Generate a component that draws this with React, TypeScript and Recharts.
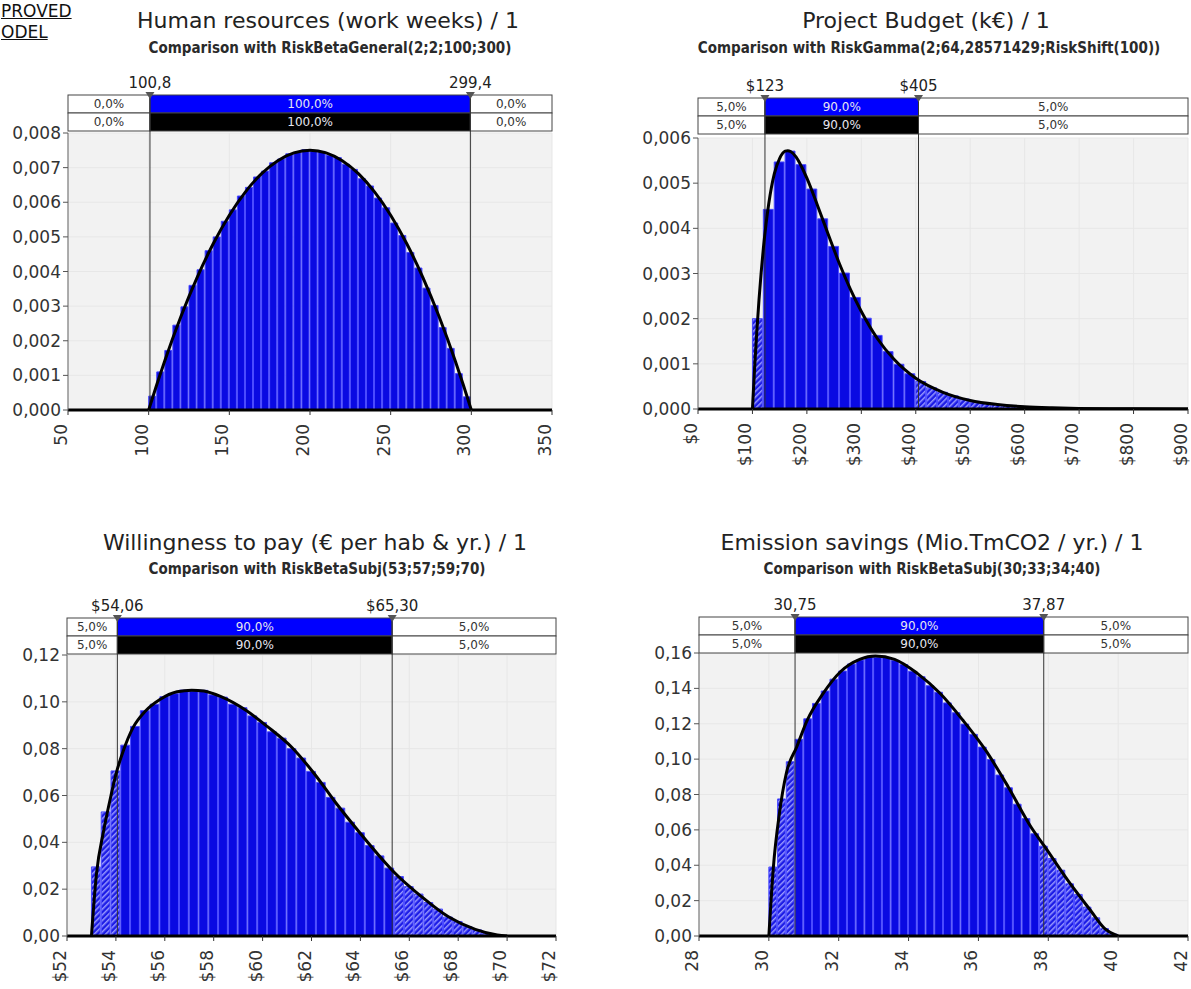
import React from "react";
import {
  ComposedChart,
  Bar,
  Line,
  XAxis,
  YAxis,
  CartesianGrid,
  Cell,
  ReferenceArea,
  ReferenceLine,
  ReferenceDot,
} from "recharts";

// Human resources (work weeks): histogram bins [centre, density] and fitted curve
const hrBins = [
  [102.5, 0.0004], [107.5, 0.0011], [112.5, 0.00172], [117.5, 0.00245], [122.5, 0.00298],
  [127.5, 0.0036], [132.5, 0.00405], [137.5, 0.0046], [142.5, 0.005], [147.5, 0.00545],
  [152.5, 0.00578], [157.5, 0.00618], [162.5, 0.00643], [167.5, 0.00673], [172.5, 0.0069],
  [177.5, 0.00714], [182.5, 0.00725], [187.5, 0.0074], [192.5, 0.00744], [197.5, 0.00752],
  [202.5, 0.00748], [207.5, 0.00747], [212.5, 0.00736], [217.5, 0.00729], [222.5, 0.0071],
  [227.5, 0.00695], [232.5, 0.00668], [237.5, 0.00647], [242.5, 0.00612], [247.5, 0.00584],
  [252.5, 0.0054], [257.5, 0.00504], [262.5, 0.00455], [267.5, 0.0041], [272.5, 0.00352],
  [277.5, 0.00302], [282.5, 0.00238], [287.5, 0.00178], [292.5, 0.00105], [297.5, 0.00038],
];
const hrCurve = [
  [100, 0], [105, 0.00073], [110, 0.001425], [120, 0.0027], [130, 0.003825], [140, 0.0048],
  [150, 0.005625], [160, 0.0063], [170, 0.006825], [180, 0.0072], [190, 0.007425], [200, 0.0075],
  [210, 0.007425], [220, 0.0072], [230, 0.006825], [240, 0.0063], [250, 0.005625], [260, 0.0048],
  [270, 0.003825], [280, 0.0027], [290, 0.001425], [295, 0.00073], [300, 0],
];
const hrXTicks = [50, 100, 150, 200, 250, 300, 350];
const hrYTicks = [0, 0.001, 0.002, 0.003, 0.004, 0.005, 0.006, 0.007, 0.008];
const hrMarks = [100.8, 299.4];
const hrMarkLabels = ["100,8", "299,4"];
const hrPcts = ["0,0%", "100,0%", "0,0%"];

// Project budget (k€)
const budgetBins = [
  [110, 0.002], [130, 0.00442], [150, 0.00547], [170, 0.00571], [190, 0.00541], [210, 0.00487],
  [230, 0.00421], [250, 0.0036], [270, 0.00301], [290, 0.00247], [310, 0.00201], [330, 0.00163],
  [350, 0.00127], [370, 0.00099], [390, 0.00078], [410, 0.00061], [430, 0.00047], [450, 0.00037],
  [470, 0.00029], [490, 0.00022], [510, 0.00017], [530, 0.00013], [550, 0.0001], [570, 0.00008],
  [590, 0.00006], [610, 0.000045], [630, 0.000035], [650, 0.000025], [670, 0.00002], [690, 0.000015],
  [710, 0.00001], [730, 0.000008], [750, 0.000006], [770, 0.000004], [790, 0.000003],
];
const budgetCurve = [
  [100, 0], [104, 0.00091], [108, 0.00171], [112, 0.00241], [116, 0.00302], [120, 0.00355],
  [125, 0.0041], [130, 0.00455], [140, 0.0052], [150, 0.00555], [160, 0.00571], [165, 0.00572],
  [170, 0.0057], [180, 0.00558], [190, 0.00537], [200, 0.00511], [220, 0.00449], [240, 0.00384],
  [260, 0.00321], [280, 0.00265], [300, 0.00216], [330, 0.00155], [360, 0.0011], [400, 0.00068],
  [450, 0.00037], [500, 0.00019], [550, 0.0001], [600, 0.00005], [650, 0.000026], [700, 0.000013],
  [800, 0.000003], [900, 0],
];
const budgetXTicks = [0, 100, 200, 300, 400, 500, 600, 700, 800, 900];
const budgetYTicks = [0, 0.001, 0.002, 0.003, 0.004, 0.005, 0.006];
const budgetMarks = [123, 405];
const budgetMarkLabels = ["$123", "$405"];
const budgetPcts = ["5,0%", "90,0%", "5,0%"];

// Willingness to pay (€ per hab & yr.)
const wtpBins = [
  [53.2, 0.0295], [53.6, 0.053], [54.0, 0.0705], [54.4, 0.0815], [54.8, 0.0895], [55.2, 0.0962],
  [55.6, 0.099], [56.0, 0.1022], [56.4, 0.1035], [56.8, 0.105], [57.2, 0.1046], [57.6, 0.1049],
  [58.0, 0.103], [58.4, 0.102], [58.8, 0.099], [59.2, 0.0975], [59.6, 0.094], [60.0, 0.0912],
  [60.4, 0.0872], [60.8, 0.0845], [61.2, 0.08], [61.6, 0.076], [62.0, 0.0703], [62.4, 0.0656],
  [62.8, 0.0592], [63.2, 0.0546], [63.6, 0.0486], [64.0, 0.0441], [64.4, 0.0386], [64.8, 0.0342],
  [65.2, 0.029], [65.6, 0.0254], [66.0, 0.0211], [66.4, 0.0179], [66.8, 0.0143], [67.2, 0.0115],
  [67.6, 0.0081], [68.0, 0.0062], [68.4, 0.004], [68.8, 0.0026], [69.2, 0.0012], [69.6, 0.0004],
];
const wtpCurve = [
  [53.0, 0], [53.2, 0.026], [53.5, 0.045], [53.8, 0.06], [54.0, 0.069], [54.3, 0.079],
  [54.7, 0.089], [55.2, 0.096], [55.8, 0.101], [56.5, 0.1043], [57.1, 0.105], [57.6, 0.1046],
  [58.3, 0.1022], [59.3, 0.0965], [60.2, 0.0894], [61.2, 0.0805], [62.1, 0.0695], [63.0, 0.0568],
  [64.0, 0.0438], [64.9, 0.0327], [65.4, 0.027], [66.5, 0.0168], [67.6, 0.0082], [68.7, 0.0028],
  [69.6, 0.0004], [70.0, 0],
];
const wtpXTicks = [52, 54, 56, 58, 60, 62, 64, 66, 68, 70, 72];
const wtpYTicks = [0, 0.02, 0.04, 0.06, 0.08, 0.1, 0.12];
const wtpMarks = [54.06, 65.3];
const wtpMarkLabels = ["$54,06", "$65,30"];
const wtpPcts = ["5,0%", "90,0%", "5,0%"];

// Emission savings (Mio.TmCO2 / yr.)
const emBins = [
  [30.125, 0.039], [30.375, 0.0775], [30.625, 0.0985], [30.875, 0.1112], [31.125, 0.1228],
  [31.375, 0.1315], [31.625, 0.1385], [31.875, 0.1452], [32.125, 0.1498], [32.375, 0.1538],
  [32.625, 0.156], [32.875, 0.1578], [33.125, 0.1576], [33.375, 0.1575], [33.625, 0.1558],
  [33.875, 0.1535], [34.125, 0.1497], [34.375, 0.1466], [34.625, 0.1415], [34.875, 0.1378],
  [35.125, 0.1318], [35.375, 0.1262], [35.625, 0.1198], [35.875, 0.114], [36.125, 0.1068],
  [36.375, 0.0998], [36.625, 0.091], [36.875, 0.0838], [37.125, 0.0745], [37.375, 0.0664],
  [37.625, 0.0578], [37.875, 0.0508], [38.125, 0.0438], [38.375, 0.0372], [38.625, 0.0295],
  [38.875, 0.0235], [39.125, 0.0163], [39.375, 0.0103], [39.625, 0.0042], [39.875, 0.001],
];
const emCurve = [
  [30.0, 0], [30.13, 0.039], [30.3, 0.069], [30.5, 0.092], [30.8, 0.107], [31.1, 0.122],
  [31.55, 0.137], [32.05, 0.1494], [32.6, 0.1564], [33.05, 0.1583], [33.6, 0.1564], [34.25, 0.1485],
  [34.9, 0.1372], [35.55, 0.1221], [36.2, 0.1052], [36.85, 0.0844], [37.5, 0.0618], [37.9, 0.0505],
  [38.55, 0.0317], [39.2, 0.0147], [39.6, 0.0045], [40.0, 0],
];
const emXTicks = [28, 30, 32, 34, 36, 38, 40, 42];
const emYTicks = [0, 0.02, 0.04, 0.06, 0.08, 0.1, 0.12, 0.14, 0.16];
const emMarks = [30.75, 37.87];
const emMarkLabels = ["30,75", "37,87"];
const emPcts = ["5,0%", "90,0%", "5,0%"];

const FONT = '"DejaVu Sans", Verdana, sans-serif';
const BLUE = "#0a0ae2";
const Y_AXIS_W = 60;
const X_AXIS_H = 50;
const ROW = 18;

const dollar = (v: number) => "$" + v;
const plain = (v: number) => String(v);

type PanelCfg = {
  box: { x: number; y: number; w: number; h: number };
  plot: { l: number; t: number; r: number; b: number };
  title: string;
  titleX: number;
  titleY: number;
  sub: string;
  subX: number;
  subY: number;
  bins: number[][];
  binW: number;
  curve: number[][];
  xDomain: [number, number];
  xTicks: number[];
  xFmt: (v: number) => string;
  yMax: number;
  yTicks: number[];
  yDigits: number;
  marks: number[];
  markLabels: string[];
  pcts: string[];
  gap: number;
};

function XTick({ x, y, payload, fmt }: any) {
  const bx = x - 1;
  const by = y + 7;
  return (
    <text
      x={bx}
      y={by}
      transform={`rotate(-90 ${bx} ${by})`}
      textAnchor="end"
      fontSize={17}
      fill="#333"
      fontFamily={FONT}
    >
      {fmt(payload.value)}
    </text>
  );
}

function BandCell({ x, y, width, height, text, kind }: any) {
  const fill = kind === "blue" ? "#0000ff" : kind === "black" ? "#000" : "#fff";
  const color = kind === "white" ? "#333" : "#e6e6f0";
  return (
    <g>
      <rect x={x} y={y} width={width} height={height} fill={fill} stroke="#444" strokeWidth={1} />
      <text
        x={x + width / 2}
        y={y + height / 2}
        dy="0.36em"
        textAnchor="middle"
        fontSize={12}
        fill={color}
        fontFamily={FONT}
      >
        {text}
      </text>
    </g>
  );
}

function Marker({ cx, cy, label }: any) {
  return (
    <g>
      <path d={`M${cx - 4.5},${cy - 3}L${cx + 4.5},${cy - 3}L${cx},${cy + 4}Z`} fill="#555" />
      <text x={cx} y={cy - 7} textAnchor="middle" fontSize={15} fill="#222" fontFamily={FONT}>
        {label}
      </text>
    </g>
  );
}

function Panel({ c }: { c: PanelCfg }) {
  const plotH = c.plot.b - c.plot.t;
  const plotW = c.plot.r - c.plot.l;
  const up = (p: number) => c.yMax + (p * c.yMax) / plotH;
  const r2a = up(c.gap);
  const r2b = up(c.gap + ROW);
  const r1b = up(c.gap + 2 * ROW);
  const binPx = (c.binW / (c.xDomain[1] - c.xDomain[0])) * plotW;
  const data = c.bins.map(([x, y]) => ({ x, y }));
  const curve = c.curve.map(([x, y]) => ({ x, y }));
  const [lo, hi] = c.marks;
  const edges = [c.xDomain[0], lo, hi, c.xDomain[1]];
  const margin = {
    top: c.plot.t - c.box.y,
    left: c.plot.l - c.box.x - Y_AXIS_W,
    right: c.box.x + c.box.w - c.plot.r,
    bottom: c.box.y + c.box.h - c.plot.b - X_AXIS_H,
  };
  const yFmt = (v: number) => v.toFixed(c.yDigits).replace(".", ",");

  const cells: React.ReactNode[] = [];
  [0, 1].forEach((row) => {
    [0, 1, 2].forEach((k) => {
      const kind = k === 1 ? (row === 0 ? "blue" : "black") : "white";
      cells.push(
        <ReferenceArea
          key={`cell-${row}-${k}`}
          x1={edges[k]}
          x2={edges[k + 1]}
          y1={row === 0 ? r2b : r2a}
          y2={row === 0 ? r1b : r2b}
          ifOverflow="visible"
          shape={(p: any) => <BandCell {...p} text={c.pcts[k]} kind={kind} />}
        />
      );
    });
  });

  return (
    <>
      <div
        style={{
          position: "absolute",
          left: c.titleX - 400,
          top: c.titleY - 11,
          width: 800,
          textAlign: "center",
          fontSize: 22,
          lineHeight: "22px",
          color: "#222",
          whiteSpace: "nowrap",
        }}
      >
        {c.title}
      </div>
      <div
        style={{
          position: "absolute",
          left: c.subX - 400,
          top: c.subY - 8,
          width: 800,
          textAlign: "center",
          fontSize: 15,
          lineHeight: "15px",
          fontWeight: "bold",
          fontFamily: '"DejaVu Sans Condensed", "DejaVu Sans", sans-serif',
          color: "#2a2a2a",
          whiteSpace: "nowrap",
        }}
      >
        {c.sub}
      </div>
      <div style={{ position: "absolute", left: c.box.x, top: c.box.y }}>
        <ComposedChart width={c.box.w} height={c.box.h} data={data} margin={margin}>
          <CartesianGrid fill="#f2f2f2" stroke="#e7e7e7" />
          <XAxis
            dataKey="x"
            type="number"
            domain={c.xDomain}
            ticks={c.xTicks}
            allowDataOverflow
            interval={0}
            height={X_AXIS_H}
            tickSize={5}
            axisLine={{ stroke: "#000", strokeWidth: 3 }}
            tickLine={{ stroke: "#333" }}
            tick={(p: any) => <XTick {...p} fmt={c.xFmt} />}
          />
          <XAxis xAxisId="c" dataKey="x" type="number" domain={c.xDomain} allowDataOverflow hide />
          <YAxis
            type="number"
            domain={[0, c.yMax]}
            ticks={c.yTicks}
            allowDataOverflow
            interval={0}
            width={Y_AXIS_W}
            tickSize={5}
            tickFormatter={yFmt}
            axisLine={{ stroke: "#666" }}
            tickLine={{ stroke: "#555" }}
            tick={{ fontSize: 17, fill: "#333", fontFamily: FONT }}
          />
          <Bar
            dataKey="y"
            barSize={Math.max(1, binPx - 1)}
            fill={BLUE}
            stroke="#4a4aff"
            strokeWidth={1}
            isAnimationActive={false}
          >
            {data.map((d, i) => (
              <Cell key={`b-${i}`} fill={d.x < lo || d.x > hi ? "url(#hatch)" : BLUE} />
            ))}
          </Bar>
          {c.marks.map((m, i) => (
            <ReferenceLine
              key={`ml-${i}`}
              segment={[
                { x: m, y: 0 },
                { x: m, y: r1b },
              ]}
              ifOverflow="visible"
              stroke="#333"
              strokeWidth={1}
            />
          ))}
          <Line
            xAxisId="c"
            data={curve}
            dataKey="y"
            type="monotone"
            stroke="#000"
            strokeWidth={3}
            dot={false}
            isAnimationActive={false}
          />
          {cells}
          {c.marks.map((m, i) => (
            <ReferenceDot
              key={`md-${i}`}
              x={m}
              y={r1b}
              ifOverflow="visible"
              shape={(p: any) => <Marker {...p} label={c.markLabels[i]} />}
            />
          ))}
        </ComposedChart>
      </div>
    </>
  );
}

const panels: PanelCfg[] = [
  {
    box: { x: 0, y: 0, w: 597, h: 470 },
    plot: { l: 68, t: 133, r: 552, b: 410 },
    title: "Human resources (work weeks) / 1",
    titleX: 328,
    titleY: 21,
    sub: "Comparison with RiskBetaGeneral(2;2;100;300)",
    subX: 330,
    subY: 49,
    bins: hrBins,
    binW: 5,
    curve: hrCurve,
    xDomain: [50, 350],
    xTicks: hrXTicks,
    xFmt: plain,
    yMax: 0.008,
    yTicks: hrYTicks,
    yDigits: 3,
    marks: hrMarks,
    markLabels: hrMarkLabels,
    pcts: hrPcts,
    gap: 2,
  },
  {
    box: { x: 597, y: 0, w: 594, h: 470 },
    plot: { l: 698, t: 138, r: 1188, b: 409 },
    title: "Project Budget (k€) / 1",
    titleX: 926,
    titleY: 21,
    sub: "Comparison with RiskGamma(2;64,28571429;RiskShift(100))",
    subX: 929,
    subY: 49,
    bins: budgetBins,
    binW: 20,
    curve: budgetCurve,
    xDomain: [0, 900],
    xTicks: budgetXTicks,
    xFmt: dollar,
    yMax: 0.006,
    yTicks: budgetYTicks,
    yDigits: 3,
    marks: budgetMarks,
    markLabels: budgetMarkLabels,
    pcts: budgetPcts,
    gap: 4,
  },
  {
    box: { x: 0, y: 490, w: 597, h: 499 },
    plot: { l: 67, t: 655, r: 556, b: 936 },
    title: "Willingness to pay (€ per hab & yr.) / 1",
    titleX: 315,
    titleY: 543,
    sub: "Comparison with RiskBetaSubj(53;57;59;70)",
    subX: 317,
    subY: 570,
    bins: wtpBins,
    binW: 0.4,
    curve: wtpCurve,
    xDomain: [52, 72],
    xTicks: wtpXTicks,
    xFmt: dollar,
    yMax: 0.12,
    yTicks: wtpYTicks,
    yDigits: 2,
    marks: wtpMarks,
    markLabels: wtpMarkLabels,
    pcts: wtpPcts,
    gap: 1,
  },
  {
    box: { x: 597, y: 490, w: 594, h: 499 },
    plot: { l: 699, t: 653, r: 1188, b: 936 },
    title: "Emission savings (Mio.TmCO2 / yr.) / 1",
    titleX: 932,
    titleY: 543,
    sub: "Comparison with RiskBetaSubj(30;33;34;40)",
    subX: 932,
    subY: 570,
    bins: emBins,
    binW: 0.25,
    curve: emCurve,
    xDomain: [28, 42],
    xTicks: emXTicks,
    xFmt: plain,
    yMax: 0.16,
    yTicks: emYTicks,
    yDigits: 2,
    marks: emMarks,
    markLabels: emMarkLabels,
    pcts: emPcts,
    gap: 0,
  },
];

export default function App() {
  return (
    <div
      style={{
        position: "absolute",
        left: 0,
        top: 0,
        width: 1191,
        height: 989,
        background: "#fff",
        fontFamily: FONT,
        overflow: "hidden",
      }}
    >
      <svg width={0} height={0} style={{ position: "absolute" }}>
        <defs>
          <pattern id="hatch" patternUnits="userSpaceOnUse" width={4} height={4} patternTransform="rotate(45)">
            <rect width={4} height={4} fill="#1c1ce6" />
            <rect width={1.5} height={4} fill="#9a9aff" />
          </pattern>
        </defs>
      </svg>
      <div
        style={{
          position: "absolute",
          left: 1,
          top: 1,
          fontSize: 17,
          lineHeight: "21px",
          textDecoration: "underline",
          color: "#111",
        }}
      >
        PROVED
        <br />
        ODEL
      </div>
      {panels.map((p, i) => (
        <Panel key={i} c={p} />
      ))}
    </div>
  );
}
